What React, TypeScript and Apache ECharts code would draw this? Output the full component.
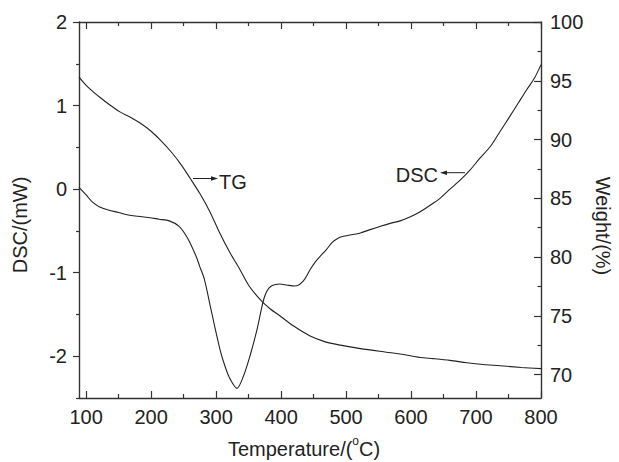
import React, { useEffect, useRef } from "react";
import * as echarts from "echarts";

// Temperature (°C) and DSC (mW)
const dscTemp = [89, 100, 109, 120, 134, 150, 165, 180, 196, 212, 228, 243, 256, 269, 275, 282, 291, 306, 315, 322, 332, 342, 352, 363, 369, 374, 379, 384, 390, 398, 410, 421, 434, 445, 454, 470, 479, 487, 496, 506, 522, 537, 553, 568, 583, 599, 614, 630, 645, 660, 676, 691, 706, 722, 737, 752, 765, 778, 790, 800];
const dscValue = [0.02, -0.07, -0.15, -0.21, -0.25, -0.28, -0.31, -0.325, -0.34, -0.36, -0.38, -0.445, -0.585, -0.8, -0.93, -1.08, -1.4, -1.92, -2.15, -2.28, -2.385, -2.24, -2.0, -1.68, -1.46, -1.3, -1.21, -1.165, -1.145, -1.135, -1.15, -1.16, -1.1, -0.96, -0.86, -0.72, -0.635, -0.59, -0.565, -0.55, -0.525, -0.485, -0.445, -0.41, -0.38, -0.33, -0.27, -0.19, -0.107, 0.0, 0.11, 0.23, 0.37, 0.51, 0.69, 0.87, 1.03, 1.19, 1.33, 1.49];

// Temperature (°C) and weight (%)
const tgTemp = [89, 100, 110, 121, 135, 152, 168, 183, 200, 215, 230, 245, 260, 275, 290, 306, 321, 337, 350, 369, 383, 398, 420, 444, 467, 491, 522, 562, 583, 614, 634, 660, 686, 711, 737, 770, 800];
const tgValue = [95.3, 94.6, 94.1, 93.6, 93.0, 92.35, 91.9, 91.4, 90.7, 89.9, 89.0, 87.95, 86.7, 85.4, 83.9, 82.0, 80.4, 78.9, 77.6, 76.3, 75.6, 75.0, 74.1, 73.3, 72.8, 72.5, 72.2, 71.9, 71.75, 71.45, 71.35, 71.2, 71.0, 70.85, 70.75, 70.6, 70.5];

const xMajor = [100, 200, 300, 400, 500, 600, 700, 800];
const xMinor = [150, 250, 350, 450, 550, 650, 750];
const dscMajor = [-2, -1, 0, 1, 2];
const dscMinor = [-2.5, -1.5, -0.5, 0.5, 1.5];
const wMajor = [70, 75, 80, 85, 90, 95, 100];
const wMinor = [72.5, 77.5, 82.5, 87.5, 92.5, 97.5];

const FONT = "'Liberation Sans', Arial, sans-serif";
const INK = "#222";
const AX = "#333";

function xAx(position: string, ticks: number[], len: number, line: boolean, labels: boolean) {
  return {
    type: "value",
    position,
    min: 89,
    max: 800,
    axisLine: { show: line, onZero: false, lineStyle: { color: AX, width: 1.4 } },
    axisTick: { show: true, inside: true, length: len, customValues: ticks, lineStyle: { color: AX, width: 1.2 } },
    axisLabel: labels
      ? { show: true, customValues: xMajor, margin: 9, color: INK, fontSize: 20, fontFamily: FONT }
      : { show: false },
    splitLine: { show: false },
  };
}

function yAx(position: string, min: number, max: number, ticks: number[], len: number, inside: boolean, line: boolean, labels: number[] | null, margin: number) {
  return {
    type: "value",
    position,
    min,
    max,
    axisLine: { show: line, onZero: false, lineStyle: { color: AX, width: 1.4 } },
    axisTick: { show: true, inside, length: len, customValues: ticks, lineStyle: { color: AX, width: 1.2 } },
    axisLabel: labels
      ? { show: true, customValues: labels, margin, color: INK, fontSize: 20, fontFamily: FONT }
      : { show: false },
    splitLine: { show: false },
  };
}

export default function App() {
  const ref = useRef<HTMLDivElement>(null);
  useEffect(() => {
    if (!ref.current) return;
    const chart = echarts.init(ref.current, undefined, { renderer: "svg" });
    chart.setOption({
      animation: false,
      backgroundColor: "#fff",
      grid: { left: 79, top: 22, right: 78, bottom: 64, containLabel: false, outerBoundsMode: "none" },
      xAxis: [
        xAx("bottom", xMajor, 7, true, true),
        xAx("bottom", xMinor, 4, false, false),
        xAx("top", xMajor, 7, true, false),
        xAx("top", xMinor, 4, false, false),
      ],
      yAxis: [
        yAx("left", -2.5, 2, dscMajor, 6, false, true, dscMajor, 12),
        yAx("left", -2.5, 2, dscMinor, 3, false, false, null, 0),
        yAx("right", 68, 100, wMajor, 7, true, true, wMajor, 9),
        yAx("right", 68, 100, wMinor, 3.5, true, false, null, 0),
      ],
      series: [
        {
          name: "DSC",
          type: "line",
          xAxisIndex: 0,
          yAxisIndex: 0,
          data: dscTemp.map((t, i) => [t, dscValue[i]]),
          smooth: 0.3,
          showSymbol: false,
          lineStyle: { color: INK, width: 1.1 },
        },
        {
          name: "TG",
          type: "line",
          xAxisIndex: 0,
          yAxisIndex: 2,
          data: tgTemp.map((t, i) => [t, tgValue[i]]),
          smooth: 0.3,
          showSymbol: false,
          lineStyle: { color: INK, width: 1.1 },
        },
      ],
      graphic: [
        {
          type: "text",
          x: 20,
          y: 225,
          rotation: Math.PI / 2,
          style: { text: "DSC/(mW)", fill: INK, fontSize: 20, fontFamily: FONT, align: "center", verticalAlign: "middle" },
        },
        {
          type: "text",
          x: 603,
          y: 226,
          rotation: -Math.PI / 2,
          style: { text: "Weight/(%)", fill: INK, fontSize: 20, fontFamily: FONT, align: "center", verticalAlign: "middle" },
        },
        {
          type: "text",
          x: 304,
          y: 447,
          style: {
            text: "{a|Temperature/(}{s|o}{a|C)}",
            align: "center",
            verticalAlign: "middle",
            rich: {
              a: { fontSize: 20, fontFamily: FONT, fill: INK, lineHeight: 24, verticalAlign: "bottom" },
              s: { fontSize: 12, fontFamily: FONT, fill: INK, lineHeight: 12, verticalAlign: "top" },
            },
          },
        },
        // TG annotation arrow
        { type: "line", shape: { x1: 193, y1: 178.5, x2: 212, y2: 178.5 }, style: { stroke: INK, lineWidth: 1 } },
        { type: "polygon", shape: { points: [[218, 178.5], [211, 176.2], [211, 180.8]] }, style: { fill: INK } },
        {
          type: "text",
          x: 219,
          y: 182,
          style: { text: "TG", fill: INK, fontSize: 20, fontFamily: FONT, align: "left", verticalAlign: "middle" },
        },
        // DSC annotation arrow
        { type: "line", shape: { x1: 446, y1: 172.7, x2: 465, y2: 172.7 }, style: { stroke: INK, lineWidth: 1 } },
        { type: "polygon", shape: { points: [[440, 172.7], [447, 170.4], [447, 175]] }, style: { fill: INK } },
        {
          type: "text",
          x: 438,
          y: 175,
          style: { text: "DSC", fill: INK, fontSize: 20, fontFamily: FONT, align: "right", verticalAlign: "middle" },
        },
      ],
    });
    return () => chart.dispose();
  }, []);
  return <div ref={ref} style={{ position: "fixed", left: 0, top: 0, width: 619, height: 462 }} />;
}
